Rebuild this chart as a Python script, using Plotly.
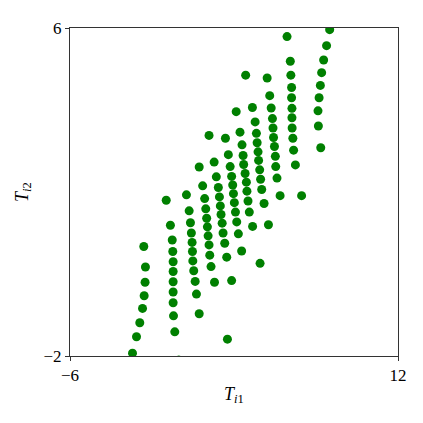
import plotly.graph_objects as go

# Data values (T_i1, T_i2), grouped by visual column
col_a_x = [-1.95, -1.86, -1.88, -1.93, -2.02, -2.17, -2.35, -2.57]
col_a_y = [0.67, 0.17, -0.20, -0.53, -0.84, -1.19, -1.53, -1.93]

col_b_x = [-0.72, -0.49, -0.39, -0.36, -0.34, -0.34, -0.34, -0.34, -0.34, -0.32, -0.25, -0.03]
col_b_y = [1.80, 1.19, 0.83, 0.55, 0.30, 0.06, -0.19, -0.44, -0.70, -1.02, -1.41, -2.10]

col_c_x = [0.39, 0.54, 0.61, 0.66, 0.70, 0.72, 0.74, 0.79, 0.87, 0.94, 1.09, 2.64]
col_c_y = [1.93, 1.54, 1.25, 1.00, 0.77, 0.55, 0.32, 0.08, -0.18, -0.49, -0.97, -1.59]

col_d_x = [1.09, 1.28, 1.39, 1.45, 1.50, 1.54, 1.58, 1.63, 1.67, 1.74, 1.93]
col_d_y = [2.61, 2.15, 1.84, 1.59, 1.36, 1.15, 0.93, 0.71, 0.46, 0.18, -0.20]

col_e_x = [1.63, 1.91, 2.03, 2.14, 2.20, 2.25, 2.29, 2.35, 2.40, 2.49, 2.60, 2.87]
col_e_y = [3.38, 2.73, 2.37, 2.11, 1.88, 1.66, 1.45, 1.24, 1.00, 0.75, 0.41, -0.16]

col_f_x = [2.53, 2.69, 2.79, 2.87, 2.93, 2.97, 3.02, 3.08, 3.15, 3.24, 3.42]
col_f_y = [3.31, 2.91, 2.62, 2.38, 2.17, 1.96, 1.74, 1.51, 1.27, 0.98, 0.56]

col_g_x = [3.12, 3.33, 3.44, 3.50, 3.53, 3.61, 3.68, 3.71, 3.77, 3.84, 4.02, 4.43, 3.64]
col_g_y = [3.96, 3.46, 3.15, 2.89, 2.67, 2.45, 2.24, 2.02, 1.78, 1.51, 1.16, 0.26, 4.85]

col_h_x = [4.01, 4.16, 4.23, 4.27, 4.32, 4.35, 4.41, 4.46, 4.52, 4.65, 4.89]
col_h_y = [4.06, 3.71, 3.43, 3.20, 2.98, 2.77, 2.54, 2.31, 2.06, 1.72, 1.20]

col_i_x = [4.82, 4.96, 5.04, 5.11, 5.14, 5.17, 5.22, 5.27, 5.29, 5.36, 5.53]
col_i_y = [4.78, 4.35, 4.05, 3.79, 3.56, 3.33, 3.11, 2.87, 2.62, 2.34, 1.91]

col_j_x = [5.91, 6.09, 6.12, 6.16, 6.16, 6.18, 6.18, 6.19, 6.23, 6.27, 6.37, 6.71]
col_j_y = [5.79, 5.19, 4.85, 4.55, 4.30, 4.04, 3.81, 3.56, 3.31, 3.02, 2.66, 1.91]

col_k_x = [8.25, 8.08, 7.92, 7.81, 7.74, 7.67, 7.61, 7.63, 7.76]
col_k_y = [5.96, 5.57, 5.22, 4.91, 4.60, 4.30, 3.98, 3.61, 3.08]

x_ticks = [-6, 12]
x_tick_text = ["\u22126", "12"]
y_ticks = [-2, 6]
y_tick_text = ["\u22122", "6"]

xs = (col_a_x + col_b_x + col_c_x + col_d_x + col_e_x + col_f_x
      + col_g_x + col_h_x + col_i_x + col_j_x + col_k_x)
ys = (col_a_y + col_b_y + col_c_y + col_d_y + col_e_y + col_f_y
      + col_g_y + col_h_y + col_i_y + col_j_y + col_k_y)

FONT = "Liberation Serif"

fig = go.Figure(go.Scatter(
    x=xs, y=ys, mode="markers",
    marker=dict(color="#008000", size=9, line=dict(width=0)),
    showlegend=False,
))

axis_common = dict(
    showgrid=False, zeroline=False, showline=True, mirror=True,
    linecolor="#333333", linewidth=1, ticks="outside", ticklen=4,
    tickcolor="#333333", tickfont=dict(family=FONT, size=17, color="black"),
)

fig.update_layout(
    width=415, height=415,
    margin=dict(l=62, r=25, t=20, b=67),
    paper_bgcolor="white", plot_bgcolor="white",
    xaxis=dict(range=[-6, 12], tickvals=x_ticks, ticktext=x_tick_text,
               title=dict(text="<i>T</i><sub><i>i</i>1</sub>",
                          font=dict(family=FONT, size=18, color="black"),
                          standoff=2),
               **axis_common),
    yaxis=dict(range=[-2, 6], tickvals=y_ticks, ticktext=y_tick_text,
               title=dict(text="<i>T</i><sub><i>i</i>2</sub>",
                          font=dict(family=FONT, size=18, color="black"),
                          standoff=10),
               **axis_common),
)

fig.write_html("out.html")
